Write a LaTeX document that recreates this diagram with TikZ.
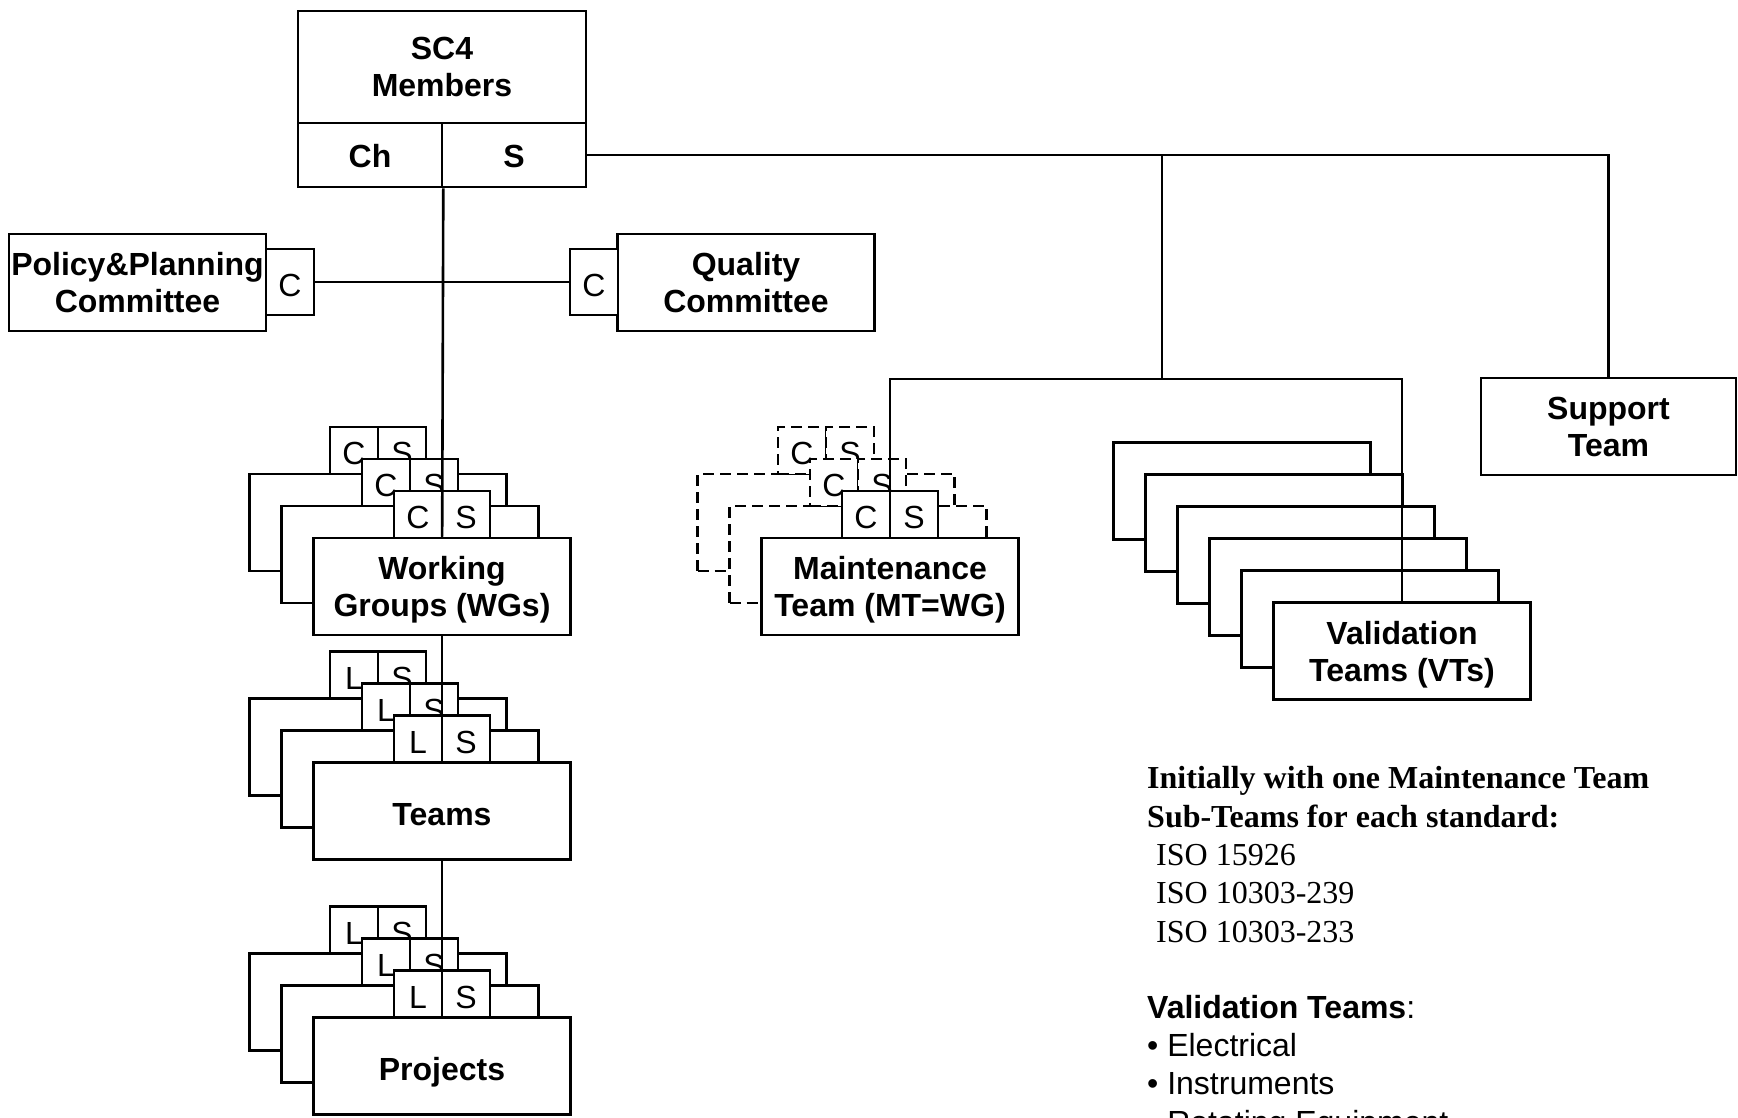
\documentclass[tikz,border=0pt]{standalone}
\usepackage{fontspec}
\setmainfont{Liberation Sans}
\newfontfamily\timesfont{Liberation Serif}
\begin{document}
\begin{tikzpicture}[x=1pt,y=-1pt]
	\tikzset{unit/.style = {draw, fill=white, line width=2.6pt, inner sep=0pt, minimum width=257pt, minimum height=97pt, text depth=0pt, execute at begin node=\rule{0pt}{28.5pt}, align=center, font=\fontsize{32}{37}\selectfont\bfseries}}
	\tikzset{tab/.style = {draw, fill=white, line width=2.6pt, inner sep=0pt, minimum width=48pt, minimum height=47pt, text depth=0pt, execute at begin node=\rule{0pt}{28pt}, font=\fontsize{32}{37}\selectfont}}
	\tikzset{ghost/.style = {dash pattern=on 11pt off 6pt}}
	\tikzset{link/.style = {line width=2.6pt}}
	\tikzset{note/.style = {anchor=base west, inner sep=0pt, font=\fontsize{32}{38}\selectfont}}

	\path[use as bounding box, clip] (0,0) rectangle (1738,1118);

	\node[unit, minimum width=288pt, minimum height=112pt] (members) at (442,67) {SC4\\Members};
	\node[unit, minimum width=144pt, minimum height=64pt, text height=25pt] (ch) at (370,155) {Ch};
	\node[unit, minimum width=144pt, minimum height=64pt, text height=25pt] (sec) at (514,155) {S};

	\node[unit] (policy) at (137.5,282.5) {Policy\&Planning\\Committee};
	\node[tab, minimum height=66pt] (polc) at (290,282) {C};
	\node[unit] (quality) at (746,282.5) {Quality\\Committee};
	\node[tab, minimum height=66pt] (qualc) at (594,282) {C};

	% back layers
	\foreach \nm/\x/\y/\ltr/\sty in {wg/442/586.5/C/solid, teams/442/811/L/solid, proj/442/1066/L/solid, mt/890/586.5/C/ghost}
		\foreach \d in {64,32} {
			\node[unit,\sty] (\nm\d) at (\x-\d,\y-\d) {};
			\node[tab,\sty] (\nm-c\d) at (\x-24-\d,\y-72-\d) {\ltr};
			\node[tab,\sty] (\nm-s\d) at (\x+24-\d,\y-72-\d) {S};
		}

	\node[unit] (wg) at (442,586.5) {Working\\Groups (WGs)};
	\node[tab] (wg-c) at (418,514.5) {C};
	\node[tab] (wg-s) at (466,514.5) {S};
	\node[unit] (teams) at (442,811) {Teams};
	\node[tab] (teams-c) at (418,739) {L};
	\node[tab] (teams-s) at (466,739) {S};
	\node[unit] (proj) at (442,1066) {Projects};
	\node[tab] (proj-c) at (418,994) {L};
	\node[tab] (proj-s) at (466,994) {S};
	\node[unit] (mt) at (890,586.5) {Maintenance\\Team (MT=WG)};
	\node[tab] (mt-c) at (866,514.5) {C};
	\node[tab] (mt-s) at (914,514.5) {S};

	\foreach \d in {160,128,96,64,32}
		\node[unit] (vt\d) at (1402-\d,651-\d) {};
	\node[unit] (vt) at (1402,651) {Validation\\Teams (VTs)};

	\node[unit, minimum width=255pt] (support) at (1608.5,426.5) {Support\\Team};

	\coordinate (fork) at (1162,155);
	\coordinate (hub) at (1162,379);

	% connectors
	\draw[link] (ch.south east) -- (wg);
	\draw[link] (polc) -- (qualc);
	\draw[link] (wg) -- (teams);
	\draw[link] (teams) -- (proj);
	\draw[link] (sec) -| (support);
	\draw[link] (fork) -- (hub);
	\draw[link] (hub) -| (mt);
	\draw[link] (hub) -| (vt);

	\foreach \x/\y/\txt [count=\k] in {1147/788/{\timesfont\bfseries Initially with one Maintenance Team}, 1147/827/{\timesfont\bfseries Sub-Teams for each standard:}, 1156/865/{\timesfont ISO 15926}, 1156/903/{\timesfont ISO 10303-239}, 1156/942/{\timesfont ISO 10303-233}, 1147/1018/{\textbf{Validation Teams}:}, 1147/1056/{• Electrical}, 1147/1094/{• Instruments}, 1147/1133/{• Rotating Equipment}}
		\node[note] (note\k) at (\x,\y) {\txt};
\end{tikzpicture}
\end{document}
